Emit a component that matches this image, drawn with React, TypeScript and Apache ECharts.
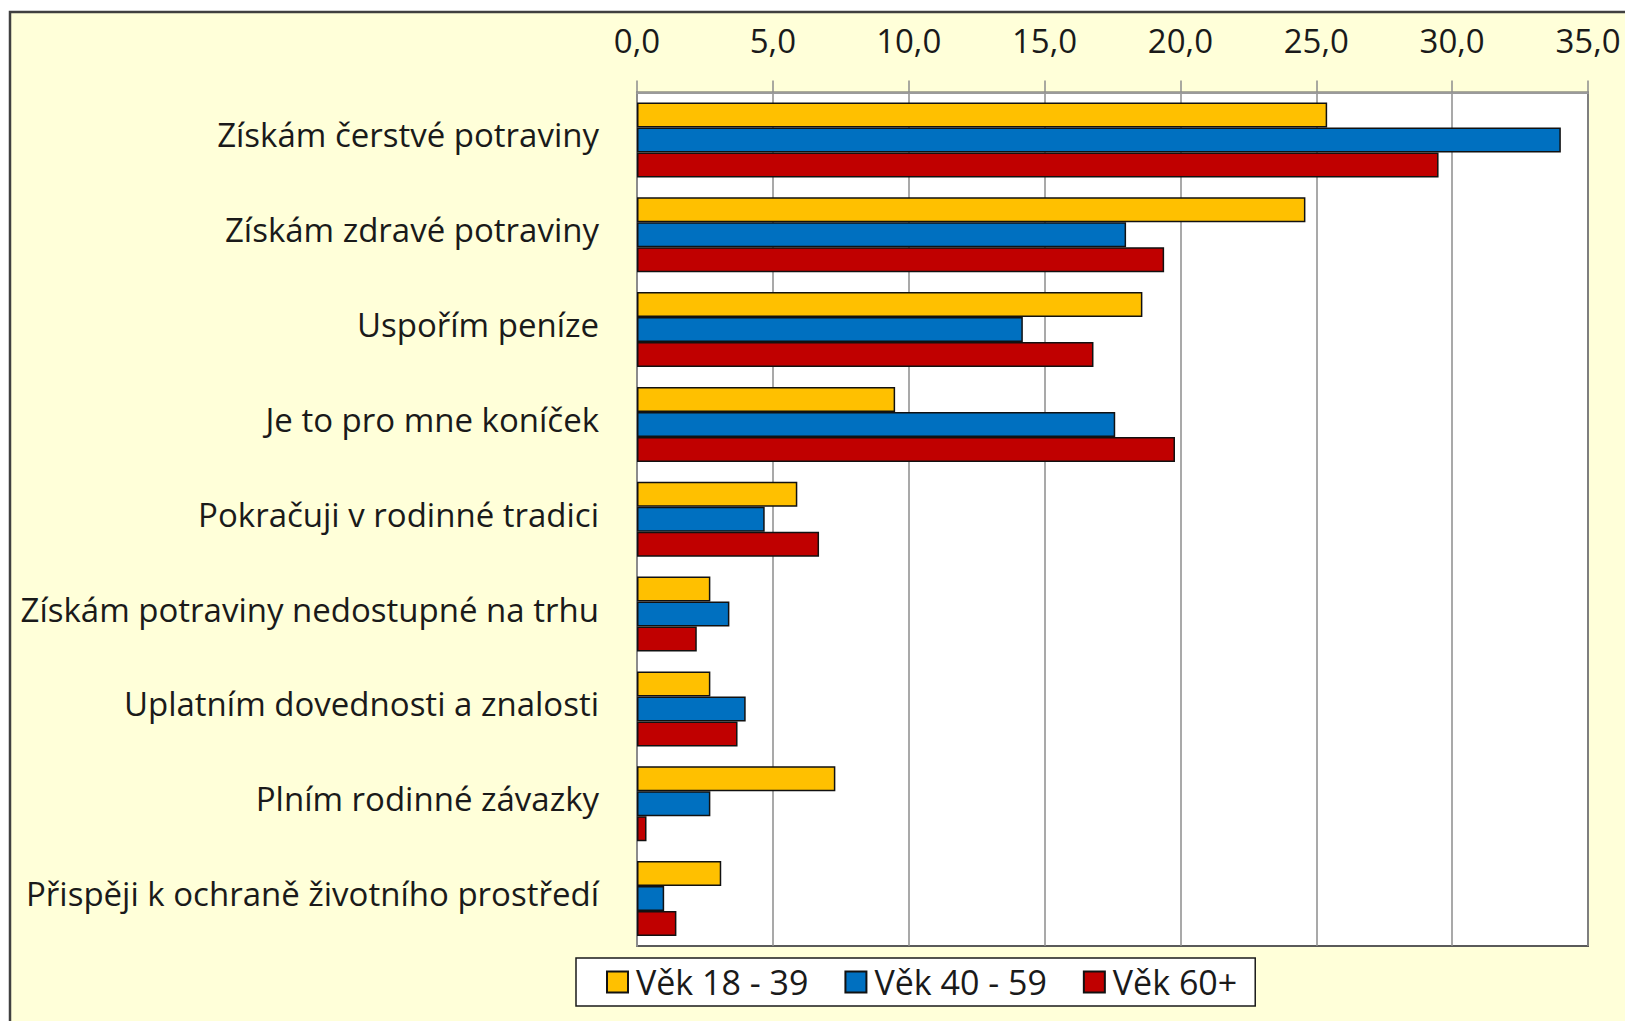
import React, { useEffect, useRef } from "react";
import * as echarts from "echarts";

const categories = [
  "Získám čerstvé potraviny",
  "Získám zdravé potraviny",
  "Uspořím peníze",
  "Je to pro mne koníček",
  "Pokračuji v rodinné tradici",
  "Získám potraviny nedostupné na trhu",
  "Uplatním dovednosti a znalosti",
  "Plním rodinné závazky",
  "Přispěji k ochraně životního prostředí",
];
const seriesNames = ["Věk 18 - 39", "Věk 40 - 59", "Věk 60+"];
const age18_39 = [25.4, 24.6, 18.6, 9.5, 5.9, 2.7, 2.7, 7.3, 3.1];
const age40_59 = [34.0, 18.0, 14.2, 17.6, 4.7, 3.4, 4.0, 2.7, 1.0];
const age60 = [29.5, 19.4, 16.8, 19.8, 6.7, 2.2, 3.7, 0.35, 1.45];
const colors = ["#FFC000", "#0070C0", "#C00000"];

const FONT = "Open Sans";

export default function App() {
  const ref = useRef<HTMLDivElement>(null);
  useEffect(() => {
    if (!ref.current) return;
    const chart = echarts.init(ref.current, null, { renderer: "svg" });
    const data = [age18_39, age40_59, age60];
    chart.setOption({
      animation: false,
      backgroundColor: "#ffffff",
      graphic: [
        {
          type: "rect",
          shape: { x: 2, y: 4, width: 1700, height: 1100 },
          style: { fill: "#FFFFD9", stroke: "#404040", lineWidth: 2.5 },
          z: -10,
          silent: true,
        },
      ],
      grid: {
        left: 629,
        top: 84.5,
        right: 45,
        bottom: 75,
        show: true,
        backgroundColor: "#ffffff",
        borderColor: "#5a5a5a",
        borderWidth: 2,
      },
      xAxis: {
        type: "value",
        position: "top",
        min: 0,
        max: 35,
        interval: 5,
        axisLine: { show: true, lineStyle: { color: "#9a9a9a", width: 2 } },
        axisTick: { show: true, length: 12, lineStyle: { color: "#8c8c8c", width: 1.5 } },
        axisLabel: {
          margin: 36,
          fontFamily: FONT,
          fontSize: 33,
          color: "#1a1a1a",
          formatter: (v: number) => v.toFixed(1).replace(".", ","),
        },
        splitLine: { show: true, lineStyle: { color: "#8c8c8c", width: 1.5 } },
      },
      yAxis: {
        type: "category",
        data: categories,
        inverse: true,
        axisLine: { show: true, lineStyle: { color: "#8c8c8c", width: 2 } },
        axisTick: { show: false },
        axisLabel: {
          margin: 38,
          fontFamily: FONT,
          fontSize: 33,
          color: "#1a1a1a",
          formatter: (v: string) => `{t|${v}}`,
          rich: {
            t: { fontFamily: FONT, fontSize: 33, color: "#1a1a1a", padding: [0, 0, 10, 0] },
          },
        },
      },
      legend: {
        data: seriesNames,
        left: 568,
        top: 950,
        itemWidth: 21,
        itemHeight: 21,
        itemGap: 36,
        icon: "rect",
        backgroundColor: "#ffffff",
        borderColor: "#1a1a1a",
        borderWidth: 1.5,
        padding: [7, 18, 7, 30],
        textStyle: { fontFamily: FONT, fontSize: 34, color: "#1a1a1a", padding: [0, 0, 0, 3] },
      },
      series: seriesNames.map((name, i) => ({
        name,
        type: "bar",
        data: data[i],
        barGap: "0%",
        barCategoryGap: "21%",
        itemStyle: { color: colors[i], borderColor: "#111111", borderWidth: 1.5 },
      })),
    });
    return () => chart.dispose();
  }, []);
  return <div ref={ref} style={{ width: 1625, height: 1013 }} />;
}
